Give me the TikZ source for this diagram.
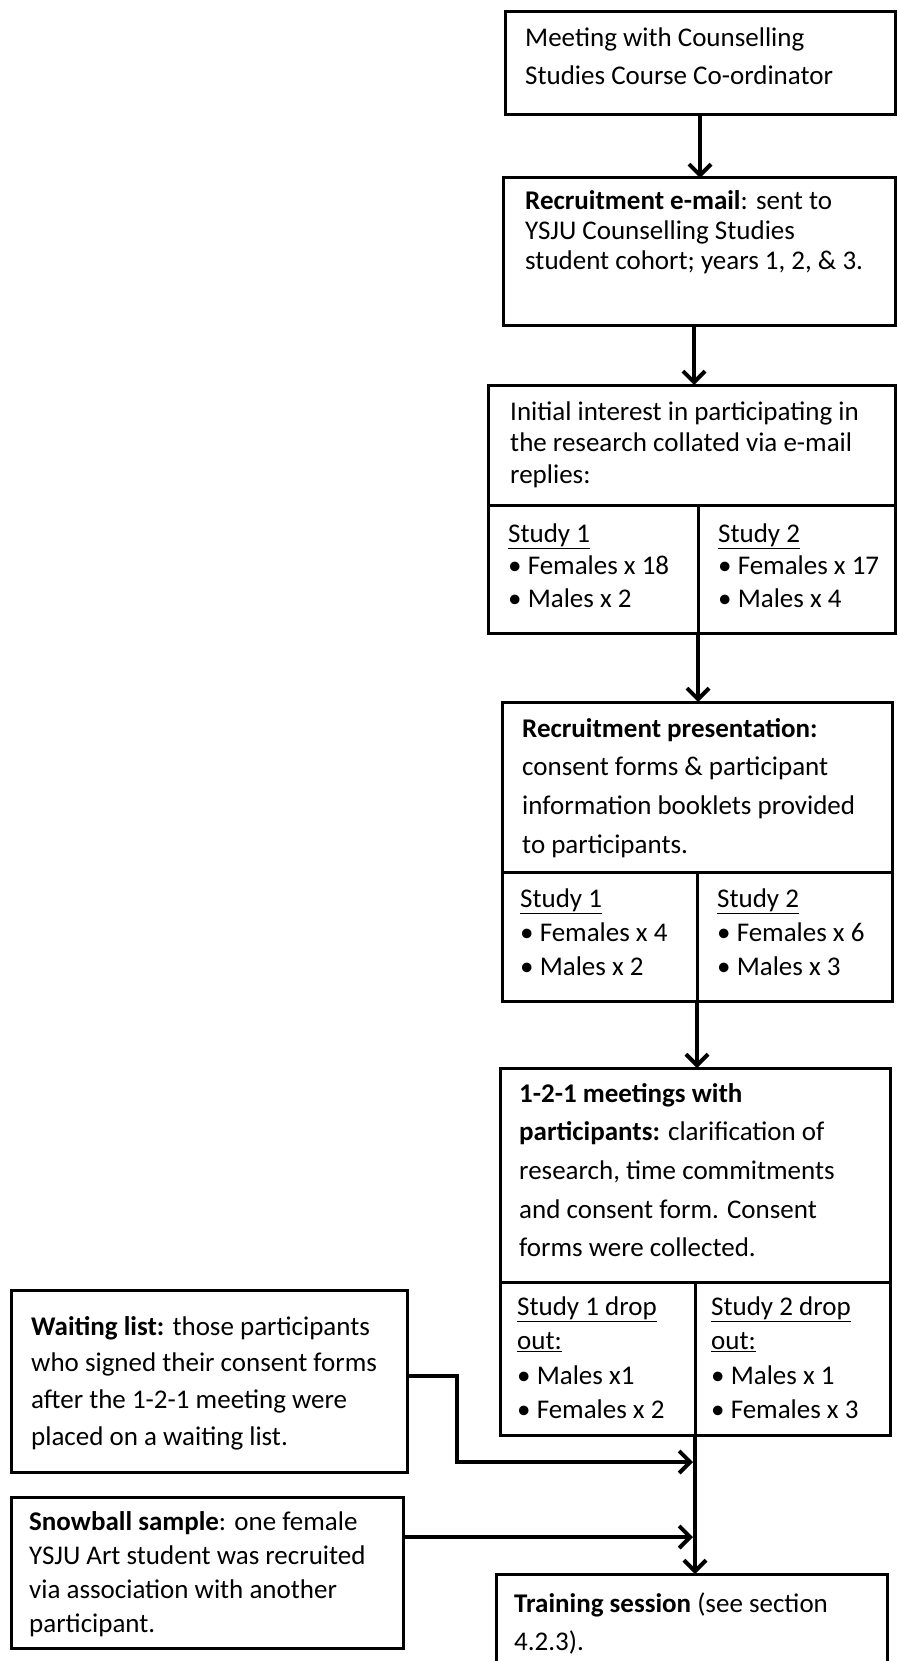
\documentclass[tikz,border=0pt]{standalone}
\usepackage{fontspec}
\setmainfont{Carlito}
\usetikzlibrary{arrows.meta}

% left-aligned block of lines with a fixed baseline distance;
% the block's baseline is the baseline of its first line
\newcommand\txtlines[2]{\vtop{\baselineskip=#1\lineskip=0pt\lineskiplimit=-\maxdimen
  \halign{##\hfil\cr#2\crcr}}}

\tikzset{
  box/.style={draw, line width=3pt, inner sep=0pt, outer sep=0pt, anchor=north west},
  txt/.style={inner sep=0pt, anchor=base west, font=\fontsize{27pt}{32pt}\selectfont},
  divider/.style={line width=3pt},
  conn/.style={line width=4.5pt, -{Straight Barb[length=11pt,width=22pt,line width=4pt]}},
  link/.style={line width=4.5pt}
}

\begin{document}
\begin{tikzpicture}[x=1pt,y=-1pt]
\useasboundingbox (0,0) rectangle (897,1661);
\fill[white] (0,0) rectangle (897,1661);
\clip (0,0) rectangle (897,1661);

% ---- boxes of the main column ----
\node[box, minimum width=390pt, minimum height=103pt] (b1) at (505,12) {};
\node[box, minimum width=392pt, minimum height=147pt] (b2) at (503,178) {};
\node[box, minimum width=407pt, minimum height=248pt] (b3) at (488,385) {};
\node[box, minimum width=390pt, minimum height=299pt] (b4) at (502,702) {};
\node[box, minimum width=390pt, minimum height=367pt] (b5) at (500,1068) {};
\node[box, minimum width=391pt, minimum height=120pt] (train) at (496,1574) {};

% ---- boxes on the left ----
\node[box, minimum width=396pt, minimum height=182pt] (wait) at (11,1290) {};
\node[box, minimum width=392pt, minimum height=151pt] (snow) at (11,1497) {};

% ---- inner rules of the split boxes ----
\coordinate (d3) at (698,505);
\coordinate (d4) at (697,872);
\coordinate (d5) at (695,1282);
\draw[divider] (b3.west |- d3) -- (b3.east |- d3);
\draw[divider] (d3) -- (d3 |- b3.south);
\draw[divider] (b4.west |- d4) -- (b4.east |- d4);
\draw[divider] (d4) -- (d4 |- b4.south);
\draw[divider] (b5.west |- d5) -- (b5.east |- d5);
\draw[divider] (d5) -- (d5 |- b5.south);

% ---- texts ----
\node[txt] (t1) at (525,47) {\txtlines{38pt}{Meeting with Counselling\cr
  Studies Course Co-ordinator}};
\node[txt] (t2) at (525,210) {\txtlines{30pt}{\textbf{Recruitment e-mail}: sent to\cr
  YSJU Counselling Studies\cr
  student cohort; years 1, 2, \& 3.}};
\node[txt] (t3) at (510,420) {\txtlines{31.5pt}{Initial interest in participating in\cr
  the research collated via e-mail\cr
  replies:}};
\node[txt] (t3a) at (508,542) {\txtlines{32.5pt}{\underline{Study 1}\cr
  •\ Females x 18\cr
  •\ Males x 2}};
\node[txt] (t3b) at (718,542) {\txtlines{32.5pt}{\underline{Study 2}\cr
  •\ Females x 17\cr
  •\ Males x 4}};
\node[txt] (t4) at (522,737) {\txtlines{38.7pt}{\textbf{Recruitment presentation:}\cr
  consent forms \& participant\cr
  information booklets provided\cr
  to participants.}};
\node[txt] (t4a) at (520,907) {\txtlines{34pt}{\underline{Study 1}\cr
  •\ Females x 4\cr
  •\ Males x 2}};
\node[txt] (t4b) at (717,907) {\txtlines{34pt}{\underline{Study 2}\cr
  •\ Females x 6\cr
  •\ Males x 3}};
\node[txt] (t5) at (519,1102) {\txtlines{38.7pt}{\textbf{1-2-1 meetings with}\cr
  \textbf{participants:} clarification of\cr
  research, time commitments\cr
  and consent form. Consent\cr
  forms were collected.}};
\node[txt] (t5a) at (517,1315) {\txtlines{34.5pt}{\underline{Study 1 drop}\cr
  \underline{out:}\cr
  •\ Males x1\cr
  •\ Females x 2}};
\node[txt] (t5b) at (711,1315) {\txtlines{34.5pt}{\underline{Study 2 drop}\cr
  \underline{out:}\cr
  •\ Males x 1\cr
  •\ Females x 3}};
\node[txt] (tw) at (31,1335) {\txtlines{36.7pt}{\textbf{Waiting list:} those participants\cr
  who signed their consent forms\cr
  after the 1-2-1 meeting were\cr
  placed on a waiting list.}};
\node[txt] (ts) at (29,1530) {\txtlines{34pt}{\textbf{Snowball sample}: one female\cr
  YSJU Art student was recruited\cr
  via association with another\cr
  participant.}};
\node[txt] (tt) at (514,1612) {\txtlines{38pt}{\textbf{Training session} (see section\cr
  4.2.3).}};

% ---- connectors ----
\draw[conn] (b1.south) -- (b1.south |- b2.north);
\coordinate (a2) at (694,325);
\draw[conn] (a2) -- (a2 |- b3.north);
\draw[conn] (d3 |- b3.south) -- (d3 |- b4.north);
\draw[conn] (d4 |- b4.south) -- (d4 |- b5.north);
\coordinate (wj) at (693,1462);
\coordinate (sj) at (693,1537);
\draw[conn] (d5 |- b5.south) -- (d5 |- train.north);
\draw[conn] (wait.east |- 0,1376) -- (457,1376) |- (wj);
\draw[conn] (snow.east |- sj) -- (sj);
\end{tikzpicture}
\end{document}
